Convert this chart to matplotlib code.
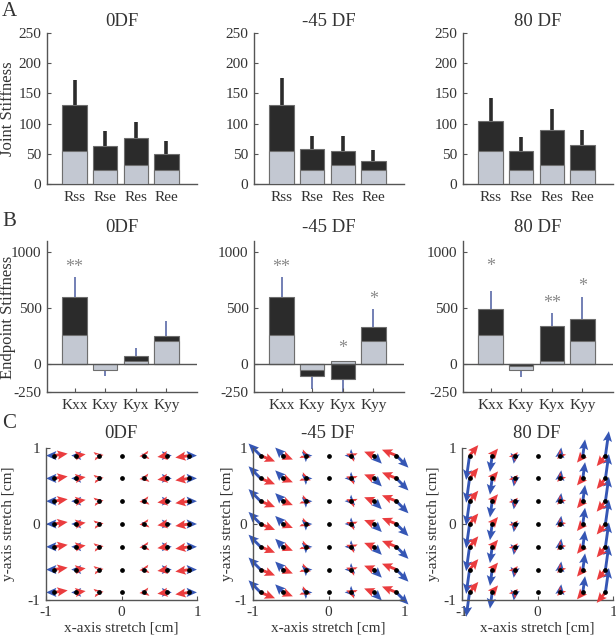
import numpy as np
import matplotlib
matplotlib.use('Agg')
import matplotlib.pyplot as plt

plt.rcParams['font.family'] = ['Liberation Serif', 'DejaVu Serif']
plt.rcParams['axes.unicode_minus'] = False

# ---------------- data ----------------
conditions = ['0DF', '-45 DF', '80 DF']

joint_labels = ['Rss', 'Rse', 'Res', 'Ree']
joint_base = [[55, 23, 31, 24], [55, 23, 31, 24], [55, 23, 31, 23]]
joint_total = [[130, 63, 76, 49], [130, 58, 55, 38], [105, 54, 89, 64]]
joint_err = [[172, 87, 103, 72], [175, 79, 80, 56], [142, 78, 124, 89]]

end_labels = ['Kxx', 'Kxy', 'Kyx', 'Kyy']
end_base = [[262, -55, 28, 205], [262, -57, 28, 208], [262, -57, 23, 208]]
end_total = [[600, 0, 76, 252], [600, -110, -135, 328], [493, -20, 344, 402]]
end_err = [[781, -110, 147, 386], [781, -222, -255, 494], [653, -115, 456, 598]]
end_stars = [['**', '', '', ''], ['**', '', '*', '*'], ['*', '', '**', '*']]
star_y = [[866, 0, 0, 0], [866, 0, 135, 580], [870, 0, 545, 697]]

grid = [-0.9, -0.6, -0.3, 0.0, 0.3, 0.6, 0.9]
df_angle = [0, -45, 82]          # direction of divergent-field force (deg)
df_gain = [0.11, 0.25, 0.36]      # arrow length per unit x-stretch
rest_angle = [8, -22, 50]         # direction of restoring force (deg)
rest_gain = [0.21, 0.23, 0.2]

# ---------------- style ----------------
W, H = 616, 639
DARK = '#2b2b2b'
LIGHT = '#c3c8d2'
EDGE = '#6e6e6e'
TXT = '#333333'
SPINE = '#555555'
ERRB = '#5a6aa8'
BLUE = '#3556b5'
RED = '#ea3c3e'

fig = plt.figure(figsize=(W / 100, H / 100), dpi=100)


def ax_at(left, top, width, height):
    return fig.add_axes([left / W, 1 - (top + height) / H, width / W, height / H])


def style(ax):
    for s in ['top', 'right']:
        ax.spines[s].set_visible(False)
    for s in ['left', 'bottom']:
        ax.spines[s].set_color(SPINE)
        ax.spines[s].set_linewidth(1.0)
    ax.tick_params(direction='in', length=3, width=0.8, color=SPINE,
                   labelsize=11, labelcolor=TXT, pad=4)


col_left = [47, 254, 463]
bw = 0.8
xpos = np.arange(1, 5)

# ---------------- Row A ----------------
for c in range(3):
    ax = ax_at(col_left[c], 33, 150, 151)
    style(ax)
    ax.bar(xpos, joint_total[c], bw, color=DARK, edgecolor=EDGE, linewidth=0.8, zorder=2)
    ax.bar(xpos, joint_base[c], bw, color=LIGHT, edgecolor=EDGE, linewidth=0.8, zorder=3)
    for i in range(4):
        ax.plot([xpos[i], xpos[i]], [joint_total[c][i], joint_err[c][i]],
                color=DARK, lw=2.6, solid_capstyle='butt', zorder=1)
    ax.set_xlim(0.1, 5.0)
    ax.set_ylim(0, 250)
    ax.set_yticks([0, 50, 100, 150, 200, 250])
    ax.set_xticks(xpos)
    ax.set_xticklabels(joint_labels)
    ax.tick_params(axis='x', length=0, pad=5)
    fig.text((col_left[c] + 75) / W, 1 - 21 / H, conditions[c], ha='center', va='center',
             fontsize=13.5, color=TXT)

fig.text(8 / W, 1 - 109 / H, 'Joint Stiffness', rotation=90, ha='center', va='center',
         fontsize=12, color=TXT)
fig.text(2 / W, 1 - 12 / H, 'A', ha='left', va='center', fontsize=15, color=TXT)

# ---------------- Row B ----------------
for c in range(3):
    ax = ax_at(col_left[c], 241, 150, 151)
    style(ax)
    ax.axhline(0, color=SPINE, lw=1.0, zorder=4)
    for i in range(4):
        vals = [(end_total[c][i], DARK), (end_base[c][i], LIGHT)]
        vals.sort(key=lambda v: -abs(v[0]))
        for k, (v, col) in enumerate(vals):
            if v != 0:
                ax.bar(xpos[i], v, bw, color=col, edgecolor=EDGE, linewidth=0.8, zorder=2 + k)
        start = vals[0][0]
        ax.plot([xpos[i], xpos[i]], [start, end_err[c][i]], color=ERRB, lw=1.2,
                solid_capstyle='butt', zorder=1)
        if end_stars[c][i]:
            ax.text(xpos[i], star_y[c][i], end_stars[c][i], ha='center', va='center',
                    fontsize=13, color='#8a8a8a')
    ax.set_xlim(0.1, 5.0)
    ax.set_ylim(-250, 1100)
    ax.set_yticks([-250, 0, 500, 1000])
    ax.set_yticklabels(['-250', '0', '500', '1000'])
    ax.set_xticks(xpos)
    ax.set_xticklabels(end_labels)
    ax.tick_params(axis='x', pad=5)
    fig.text((col_left[c] + 75) / W, 1 - 228 / H, conditions[c], ha='center', va='center',
             fontsize=13.5, color=TXT)

fig.text(8 / W, 1 - 317 / H, 'Endpoint Stiffness', rotation=90, ha='center', va='center',
         fontsize=12, color=TXT)
fig.text(2 / W, 1 - 222 / H, 'B', ha='left', va='center', fontsize=15, color=TXT)

# ---------------- Row C ----------------
c_left = [46, 253, 462]
ylab_x = [9, 228, 434]
X, Y = np.meshgrid(grid, grid)
qkw = dict(angles='xy', scale_units='xy', scale=1, width=0.019, headwidth=3.2,
           headlength=3.6, headaxislength=3.1, minlength=0, minshaft=0.5)
for c in range(3):
    ax = ax_at(c_left[c], 448, 151, 152)
    style(ax)
    a = np.deg2rad(df_angle[c])
    Ub = df_gain[c] * X * np.cos(a)
    Vb = df_gain[c] * X * np.sin(a)
    r = np.deg2rad(rest_angle[c])
    Ur = -rest_gain[c] * X * np.cos(r)
    Vr = -rest_gain[c] * X * np.sin(r)
    qb = ax.quiver(X, Y, Ub, Vb, color=BLUE, zorder=2, **qkw)
    qr = ax.quiver(X, Y, Ur, Vr, color=RED, zorder=3, **qkw)
    qb.set_clip_on(False)
    qr.set_clip_on(False)
    ax.plot(X.ravel(), Y.ravel(), 'o', color='black', ms=2.4, zorder=4, clip_on=False)
    ax.set_xlim(-1, 1)
    ax.set_ylim(-1, 1)
    ax.set_xticks([-1, 0, 1])
    ax.set_xticklabels(['-1', '0', '1'])
    ax.set_yticks([-1, 0, 1])
    ax.set_yticklabels(['-1', '0', '1'])
    ax.set_xlabel('x-axis stretch [cm]', fontsize=11, color=TXT, labelpad=2)
    fig.text(ylab_x[c] / W, 1 - 524 / H, 'y-axis stretch [cm]', rotation=90, ha='center',
             va='center', fontsize=11, color=TXT)
    fig.text((c_left[c] + 75) / W, 1 - 433 / H, conditions[c], ha='center', va='center',
             fontsize=13.5, color=TXT)

fig.text(2 / W, 1 - 423 / H, 'C', ha='left', va='center', fontsize=15, color=TXT)

fig.savefig('out.png', dpi=100)
